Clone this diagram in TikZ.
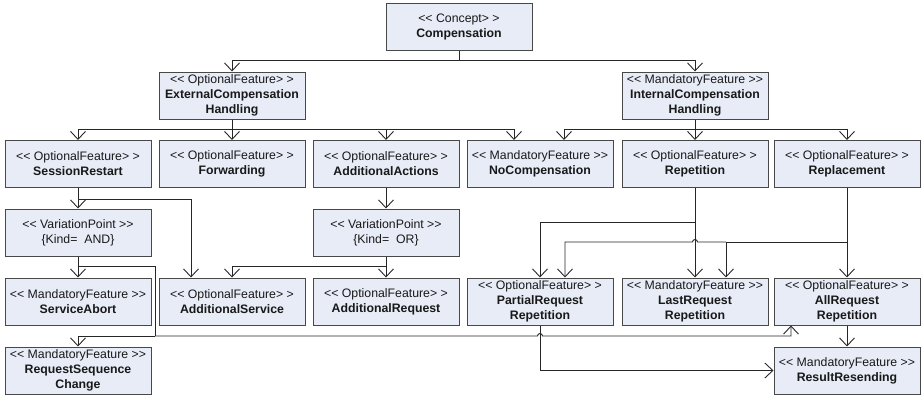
\documentclass[tikz,border=0pt]{standalone}
\usepackage{fontspec}
\setmainfont{Liberation Sans}
\usetikzlibrary{%
  arrows.meta,%
  calc%
}
\definecolor{featfill}{RGB}{231,236,247}
\definecolor{featline}{RGB}{72,72,72}
\tikzset{>={Straight Barb[length=8pt,width=15pt]}}
\tikzset{feature/.style = {draw=featline, fill=featfill, line width=1pt,
    minimum width=146pt, minimum height=47pt, inner sep=0pt, align=center,
    text=black!90, font=\fontsize{12.3}{15}\selectfont},%
  link/.style = {draw=black!85, line width=0.9pt},%
  arrlink/.style = {link, ->}}

\begin{document}
\begin{tikzpicture}[x=1pt,y=-1pt]
  \useasboundingbox (0,0) rectangle (922,397);
  % features
  \node[feature] (comp) at (459,27) {<{}< Concept> >\\ \textbf{Compensation}};
  \node[feature] (ech) at (232,95.5) {<{}< OptionalFeature> >\\
    \textbf{ExternalCompensation}\\ \textbf{Handling}};
  \node[feature] (ich) at (695,95.5) {<{}< MandatoryFeature >{}>\\
    \textbf{InternalCompensation}\\ \textbf{Handling}};
  \node[feature] (sesr) at (78,164) {<{}< OptionalFeature> >\\ \textbf{SessionRestart}};
  \node[feature] (fwd) at (232,164) {<{}< OptionalFeature> >\\ \textbf{Forwarding}};
  \node[feature] (addact) at (386,164) {<{}< OptionalFeature> >\\ \textbf{AdditionalActions}};
  \node[feature] (nocomp) at (540,164) {<{}< MandatoryFeature >{}>\\ \textbf{NoCompensation}};
  \node[feature] (rep) at (695,164) {<{}< OptionalFeature> >\\ \textbf{Repetition}};
  \node[feature] (repl) at (847,164) {<{}< OptionalFeature> >\\ \textbf{Replacement}};
  \node[feature] (vpand) at (78,232.5) {<{}< VariationPoint >{}>\\ \{Kind=\ \ AND\}};
  \node[feature] (vpor) at (386,232.5) {<{}< VariationPoint >{}>\\ \{Kind=\ \ OR\}};
  \node[feature] (sabort) at (78,301.5) {<{}< MandatoryFeature >{}>\\ \textbf{ServiceAbort}};
  \node[feature] (addsvc) at (232,301.5) {<{}< OptionalFeature> >\\ \textbf{AdditionalService}};
  \node[feature] (addreq) at (386,301.5) {<{}< OptionalFeature> >\\ \textbf{AdditionalRequest}};
  \node[feature] (partrep) at (540,301.5) {<{}< OptionalFeature> >\\
    \textbf{PartialRequest}\\ \textbf{Repetition}};
  \node[feature] (lastrep) at (695,301.5) {<{}< MandatoryFeature >{}>\\
    \textbf{LastRequest}\\ \textbf{Repetition}};
  \node[feature] (allrep) at (847,301.5) {<{}< OptionalFeature> >\\
    \textbf{AllRequest}\\ \textbf{Repetition}};
  \node[feature] (reqseq) at (78,370.5) {<{}< MandatoryFeature >{}>\\
    \textbf{RequestSequence}\\ \textbf{Change}};
  \node[feature] (resres) at (847,370.5) {<{}< MandatoryFeature >{}>\\ \textbf{ResultResending}};
  % branch points
  \coordinate (cjoin) at (459,60);
  \coordinate (ejoin) at (232,129);
  \coordinate (ijoin) at (695,129);
  \coordinate (sjoin) at (78,199);
  \coordinate (ajoin) at (78,266);
  \coordinate (ojoin) at (386,266);
  \coordinate (pjoin) at (695,222);
  \coordinate (rjoin) at (847,242);
  \coordinate (bjoin) at (155,336);
  % links
  \draw[link] (comp) -- (cjoin);
  \draw[arrlink] (cjoin) -| (ech);
  \draw[arrlink] (cjoin) -| (ich);
  \draw[link] (ech) -- (ejoin);
  \draw[arrlink] (ejoin) -| (sesr);
  \draw[arrlink] (ejoin) -- (fwd);
  \draw[arrlink] (ejoin) -| (addact);
  \draw[arrlink] (ejoin) -| ([xshift=-26pt]nocomp.north);
  \draw[link] (ich) -- (ijoin);
  \draw[arrlink] (ijoin) -| ([xshift=24pt]nocomp.north);
  \draw[arrlink] (ijoin) -- (rep);
  \draw[arrlink] (ijoin) -| (repl);
  \draw[arrlink] (sesr) -- (vpand);
  \draw[arrlink] (sjoin) -| ([xshift=-41pt]addsvc.north);
  \draw[arrlink] (addact) -- (vpor);
  \draw[arrlink] (vpand) -- (sabort);
  \draw[link] (ajoin) -| (bjoin);
  \draw[arrlink] (bjoin) -| (reqseq);
  \draw[arrlink] (bjoin) -- ([xshift=-2.5pt]partrep.south |- bjoin)
    arc[start angle=180, end angle=0, radius=2.5pt]
    -| ([xshift=-56pt]allrep.south);
  \draw[arrlink] (vpor) -- (addreq);
  \draw[arrlink] (ojoin) -| (addsvc);
  \draw[arrlink] (rep) -- (lastrep);
  \draw[arrlink] (pjoin) -| (partrep);
  \draw[arrlink] (repl) -- (allrep);
  \draw[arrlink] (rjoin) -| ([xshift=31pt]lastrep.north);
  \draw[arrlink] ([xshift=31pt]lastrep.north |- rjoin)
    -- ([xshift=2.5pt]rep.south |- rjoin)
    arc[start angle=0, end angle=180, radius=2.5pt]
    -| ([xshift=25pt]partrep.north);
  \draw[arrlink] (allrep) -- (resres);
  \draw[arrlink] (partrep) |- (resres);
\end{tikzpicture}
\end{document}
